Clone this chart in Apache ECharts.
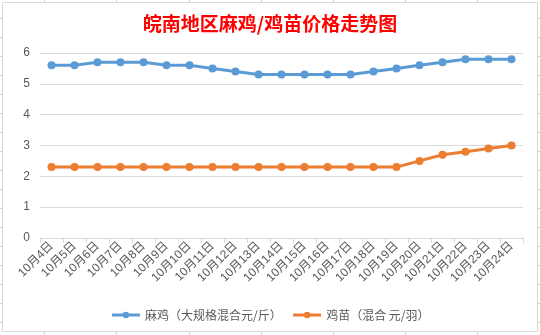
<!DOCTYPE html>
<html><head><meta charset="utf-8">
<script src="https://cdn.jsdelivr.net/npm/echarts@6/dist/echarts.min.js"></script>
<style>html,body{margin:0;padding:0;background:#fff}#c{width:540px;height:335px}</style>
</head><body><div id="c"></div>
<script>
const title = '皖南地区麻鸡/鸡苗价格走势图';
const categories = ['10月4日','10月5日','10月6日','10月7日','10月8日','10月9日','10月10日','10月11日','10月12日','10月13日','10月14日','10月15日','10月16日','10月17日','10月18日','10月19日','10月20日','10月21日','10月22日','10月23日','10月24日'];
const seriesNames = ['麻鸡（大规格混合元/斤）','鸡苗（混合 元/羽）'];
const maji = [5.6,5.6,5.7,5.7,5.7,5.6,5.6,5.5,5.4,5.3,5.3,5.3,5.3,5.3,5.4,5.5,5.6,5.7,5.8,5.8,5.8];
const jimiao = [2.3,2.3,2.3,2.3,2.3,2.3,2.3,2.3,2.3,2.3,2.3,2.3,2.3,2.3,2.3,2.3,2.5,2.7,2.8,2.9,3.0];

const font = "'Liberation Sans','Noto Sans CJK SC',sans-serif";
const g = [];
// spreadsheet gridlines visible around the chart box
[44,116,189,261,333,405,477].forEach(x=>{
  g.push({type:'line',shape:{x1:x+0.5,y1:0,x2:x+0.5,y2:3},style:{stroke:'#d4d4d4',lineWidth:1},silent:true});
  g.push({type:'line',shape:{x1:x+0.5,y1:332,x2:x+0.5,y2:335},style:{stroke:'#d4d4d4',lineWidth:1},silent:true});
});
for(let y=18;y<335;y+=19){
  g.push({type:'line',shape:{x1:0,y1:y+0.5,x2:2,y2:y+0.5},style:{stroke:'#d4d4d4',lineWidth:1},silent:true});
  g.push({type:'line',shape:{x1:538,y1:y+0.5,x2:540,y2:y+0.5},style:{stroke:'#d4d4d4',lineWidth:1},silent:true});
}
g.push({type:'rect',z:-1,shape:{x:2.5,y:2.5,width:535,height:329},style:{fill:'#fff',stroke:'#d9d9d9',lineWidth:1},silent:true});

const chart = echarts.init(document.getElementById('c'));
chart.setOption({
  animation:false,
  backgroundColor:'#fff',
  graphic:g,
  title:{text:title,left:'center',top:9,textStyle:{color:'#ff0000',fontSize:19,fontWeight:'bold',fontFamily:"'Noto Sans CJK SC',sans-serif"}},
  grid:{left:40,right:17,top:53,bottom:97,containLabel:false},
  legend:{bottom:9,left:'center',itemWidth:28,itemHeight:8,itemGap:10,
    lineStyle:{width:3},
    textStyle:{color:'#595959',fontSize:12,fontFamily:"'Noto Sans CJK SC',sans-serif"},
    data:seriesNames},
  xAxis:{type:'category',data:categories,boundaryGap:true,
    axisLine:{lineStyle:{color:'#d9d9d9'}},
    axisTick:{show:true,length:5,lineStyle:{color:'#d9d9d9'}},
    axisLabel:{rotate:45,fontSize:12,color:'#595959',margin:6,interval:0,fontFamily:font}},
  yAxis:{type:'value',min:0,max:6,interval:1,
    axisLine:{show:false},axisTick:{show:false},
    splitLine:{lineStyle:{color:'#d9d9d9'}},
    axisLabel:{fontSize:12,color:'#595959',margin:10,fontFamily:font}},
  series:[
    {name:seriesNames[0],type:'line',data:maji,symbol:'circle',symbolSize:8,
      lineStyle:{width:3,color:'#5b9bd5'},itemStyle:{color:'#5b9bd5'}},
    {name:seriesNames[1],type:'line',data:jimiao,symbol:'circle',symbolSize:8,
      lineStyle:{width:3,color:'#ed7d31'},itemStyle:{color:'#ed7d31'}}
  ]
});
</script></body></html>
